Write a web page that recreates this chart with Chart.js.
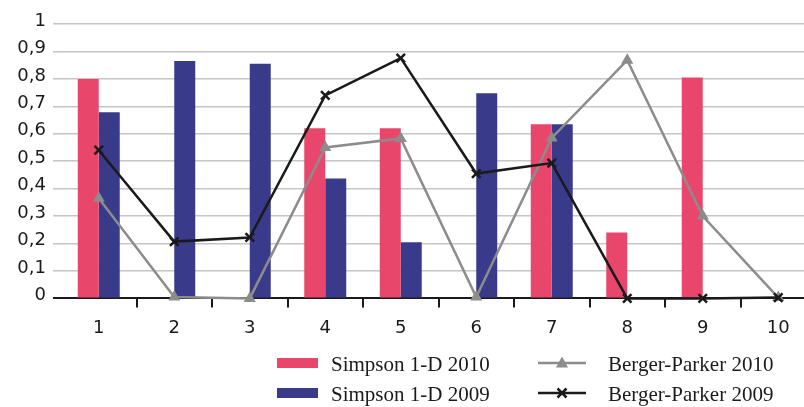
<!DOCTYPE html>
<html>
<head>
<meta charset="utf-8">
<script src="https://cdn.jsdelivr.net/npm/chart.js@4/dist/chart.umd.min.js"></script>
<style>
  html, body { margin: 0; padding: 0; background: #ffffff; overflow: hidden; }
  #wrap { position: relative; width: 830px; height: 407px; }
</style>
</head>
<body>
<div id="wrap"><canvas id="chart"></canvas></div>
<script>
// Sampling sites 1–10
const categories = ['1', '2', '3', '4', '5', '6', '7', '8', '9', '10'];

// Simpson diversity (1-D)
const simpson2010 = [0.80, 0, 0, 0.62, 0.62, 0, 0.635, 0.24, 0.805, 0];
const simpson2009 = [0.678, 0.865, 0.855, 0.437, 0.205, 0.748, 0.635, 0, 0, 0];

// Berger-Parker dominance
const berger2010 = [0.365, 0.005, 0, 0.55, 0.583, 0.005, 0.585, 0.868, 0.30, 0.003];
const berger2009 = [0.54, 0.207, 0.222, 0.74, 0.876, 0.455, 0.493, 0, 0, 0.003];

const yTickLabels = ['0', '0,1', '0,2', '0,3', '0,4', '0,5', '0,6', '0,7', '0,8', '0,9', '1'];

const PINK = '#e8476b';
const BLUE = '#3a3a8b';
const GREY = '#8c8c8c';
const BLACK = '#1a1a1a';
const GRID = '#c6c6c6';

// Two-column legend drawn below the plot
const legendGrid = {
  id: 'legendGrid',
  afterDraw(chart, args, opts) {
    const ctx = chart.ctx;
    ctx.save();
    ctx.font = opts.font;
    ctx.textBaseline = 'middle';
    ctx.textAlign = 'left';
    opts.items.forEach(item => {
      const ds = chart.data.datasets[item.dataset];
      const col = opts.columns[item.col];
      const y = opts.rows[item.row];
      if (ds.type === 'bar') {
        ctx.fillStyle = ds.backgroundColor;
        ctx.fillRect(col.x, y - 5, col.w, 10);
      } else {
        ctx.strokeStyle = ds.borderColor;
        ctx.lineWidth = 2.5;
        ctx.beginPath();
        ctx.moveTo(col.x, y);
        ctx.lineTo(col.x + col.w, y);
        ctx.stroke();
        const cx = col.x + col.w / 2;
        if (ds.pointStyle === 'triangle') {
          ctx.fillStyle = ds.pointBackgroundColor;
          ctx.beginPath();
          ctx.moveTo(cx, y - 6.5);
          ctx.lineTo(cx + 6, y + 4.5);
          ctx.lineTo(cx - 6, y + 4.5);
          ctx.closePath();
          ctx.fill();
        } else {
          ctx.lineWidth = 2.5;
          ctx.beginPath();
          ctx.moveTo(cx - 4.5, y - 4.5);
          ctx.lineTo(cx + 4.5, y + 4.5);
          ctx.moveTo(cx + 4.5, y - 4.5);
          ctx.lineTo(cx - 4.5, y + 4.5);
          ctx.stroke();
        }
      }
      ctx.fillStyle = opts.color;
      ctx.fillText(ds.label, col.textX, y + 2.5);
    });
    ctx.restore();
  }
};

new Chart(document.getElementById('chart'), {
  data: {
    labels: categories,
    datasets: [
      {
        type: 'line', label: 'Berger-Parker 2009', data: berger2009, order: 0,
        borderColor: BLACK, borderWidth: 2.5, pointStyle: 'crossRot',
        pointRadius: 6, pointBorderWidth: 2.5, pointBorderColor: BLACK,
        pointBackgroundColor: BLACK, tension: 0, clip: false
      },
      {
        type: 'line', label: 'Berger-Parker 2010', data: berger2010, order: 1,
        borderColor: GREY, borderWidth: 2.5, pointStyle: 'triangle',
        pointRadius: 7, pointBorderWidth: 0, pointBorderColor: GREY,
        pointBackgroundColor: GREY, tension: 0, clip: false
      },
      {
        type: 'bar', label: 'Simpson 1-D 2010', data: simpson2010, order: 2,
        backgroundColor: PINK, categoryPercentage: 0.556, barPercentage: 1
      },
      {
        type: 'bar', label: 'Simpson 1-D 2009', data: simpson2009, order: 3,
        backgroundColor: BLUE, categoryPercentage: 0.556, barPercentage: 1
      }
    ]
  },
  options: {
    responsive: true,
    maintainAspectRatio: false,
    animation: false,
    events: [],
    layout: { padding: { left: 0, right: 14, top: 24, bottom: 58 } },
    scales: {
      x: {
        type: 'category',
        offset: true,
        grid: {
          offset: true,
          drawOnChartArea: false,
          drawTicks: true,
          tickLength: 9,
          color: ctx => (ctx.index === 0 ? 'rgba(0,0,0,0)' : BLACK),
          lineWidth: 2
        },
        border: { display: true, color: BLACK, width: 2 },
        ticks: {
          color: BLACK,
          font: { family: 'DejaVu Sans', size: 18 },
          padding: 10,
          maxRotation: 0,
          autoSkip: false
        }
      },
      y: {
        min: 0,
        max: 1,
        afterFit: scale => { scale.width = 61; },
        grid: {
          drawTicks: true,
          tickLength: 8,
          color: ctx => (ctx.tick && ctx.tick.value === 0 ? BLACK : GRID),
          lineWidth: ctx => (ctx.tick && ctx.tick.value === 0 ? 2 : 1.6)
        },
        border: { display: false },
        ticks: {
          stepSize: 0.1,
          color: BLACK,
          font: { family: 'DejaVu Sans', size: 18 },
          padding: 7,
          labelOffset: -3,
          callback: (v, i) => yTickLabels[i]
        }
      }
    },
    plugins: {
      legend: { display: false },
      tooltip: { enabled: false },
      legendGrid: {
        font: '21px "Liberation Serif"',
        color: BLACK,
        columns: [
          { x: 277, w: 41, textX: 331 },
          { x: 538, w: 48, textX: 608 }
        ],
        rows: [363, 393],
        items: [
          { dataset: 2, col: 0, row: 0 },
          { dataset: 3, col: 0, row: 1 },
          { dataset: 1, col: 1, row: 0 },
          { dataset: 0, col: 1, row: 1 }
        ]
      }
    }
  },
  plugins: [legendGrid]
});
</script>
</body>
</html>
